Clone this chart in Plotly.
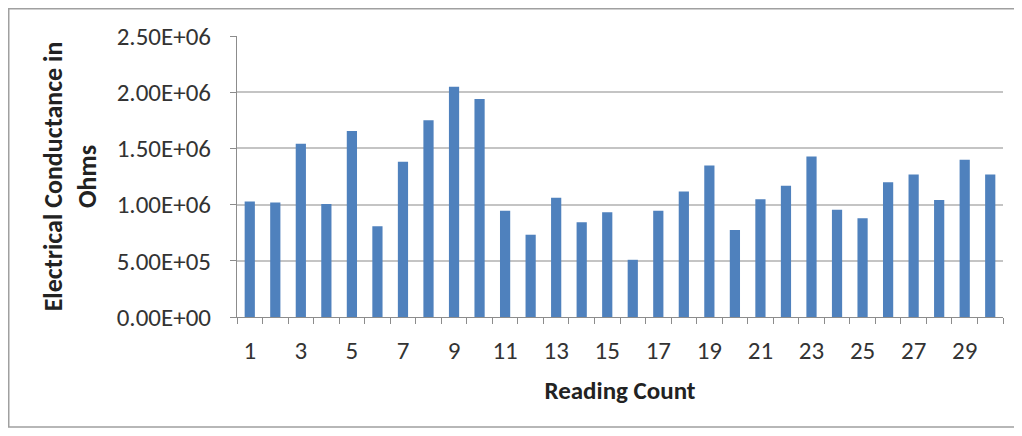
import plotly.graph_objects as go

reading_count = list(range(1, 31))
conductance = [1.027e6, 1.018e6, 1.542e6, 1.006e6, 1.655e6, 0.807e6, 1.381e6, 1.750e6, 2.048e6, 1.940e6,
               0.946e6, 0.732e6, 1.060e6, 0.842e6, 0.932e6, 0.509e6, 0.946e6, 1.116e6, 1.348e6, 0.774e6,
               1.048e6, 1.167e6, 1.429e6, 0.955e6, 0.878e6, 1.199e6, 1.268e6, 1.042e6, 1.399e6, 1.268e6]
y_ticks = [0, 5e5, 1e6, 1.5e6, 2e6, 2.5e6]
y_labels = [f"{v:.2E}" for v in y_ticks]
x_ticks = [v for v in reading_count if v % 2 == 1]

FONT = "Carlito, Lato, sans-serif"

# page body has an 8px default margin, so the figure is laid out 8px up/left
L, T, W_PLOT, H_PLOT = 229, 28, 766, 281

fig = go.Figure(go.Bar(x=reading_count, y=conductance, marker=dict(color="#4f81bd", line=dict(width=0)),
                       width=0.4))

fig.update_layout(
    width=1022, height=436,
    margin=dict(l=L, r=1022 - L - W_PLOT, t=T, b=436 - T - H_PLOT),
    paper_bgcolor="white", plot_bgcolor="white",
    font=dict(family=FONT, color="#333333"),
    showlegend=False,
    xaxis=dict(
        range=[0.5, 30.5], tickmode="array", tickvals=x_ticks, ticktext=[str(v) for v in x_ticks],
        ticks="", showgrid=False, showline=True, linecolor="#8c8c8c", linewidth=1,
        tickfont=dict(size=25, color="#333333"), ticklabelstandoff=11,
        minor=dict(ticks="outside", tick0=0.5, dtick=1, ticklen=6, tickcolor="#8c8c8c", showgrid=False),
        title=dict(text="<b>Reading Count</b>", font=dict(size=25, color="#222222"), standoff=16),
    ),
    yaxis=dict(
        range=[0, 2.5e6], tickmode="array", tickvals=y_ticks, ticktext=y_labels,
        ticks="outside", ticklen=6, tickcolor="#8c8c8c",
        showgrid=True, gridcolor="#c4c4c4", gridwidth=1.5,
        showline=True, linecolor="#8c8c8c", linewidth=1, zeroline=False,
        tickfont=dict(size=25, color="#333333"), ticklabelstandoff=14,
        title=dict(text="<b>Electrical Conductance in<br>Ohms</b>", font=dict(size=26, color="#222222"), standoff=12),
    ),
)

fig.add_shape(type="rect", xref="paper", yref="paper",
              x0=(0.75 - L) / W_PLOT, x1=(1020 - L) / W_PLOT,
              y0=(T + H_PLOT - 419) / H_PLOT, y1=(T + H_PLOT - 0.75) / H_PLOT,
              line=dict(color="#a0a0a0", width=1.5), fillcolor="rgba(0,0,0,0)", layer="below")

fig.write_html("out.html")
